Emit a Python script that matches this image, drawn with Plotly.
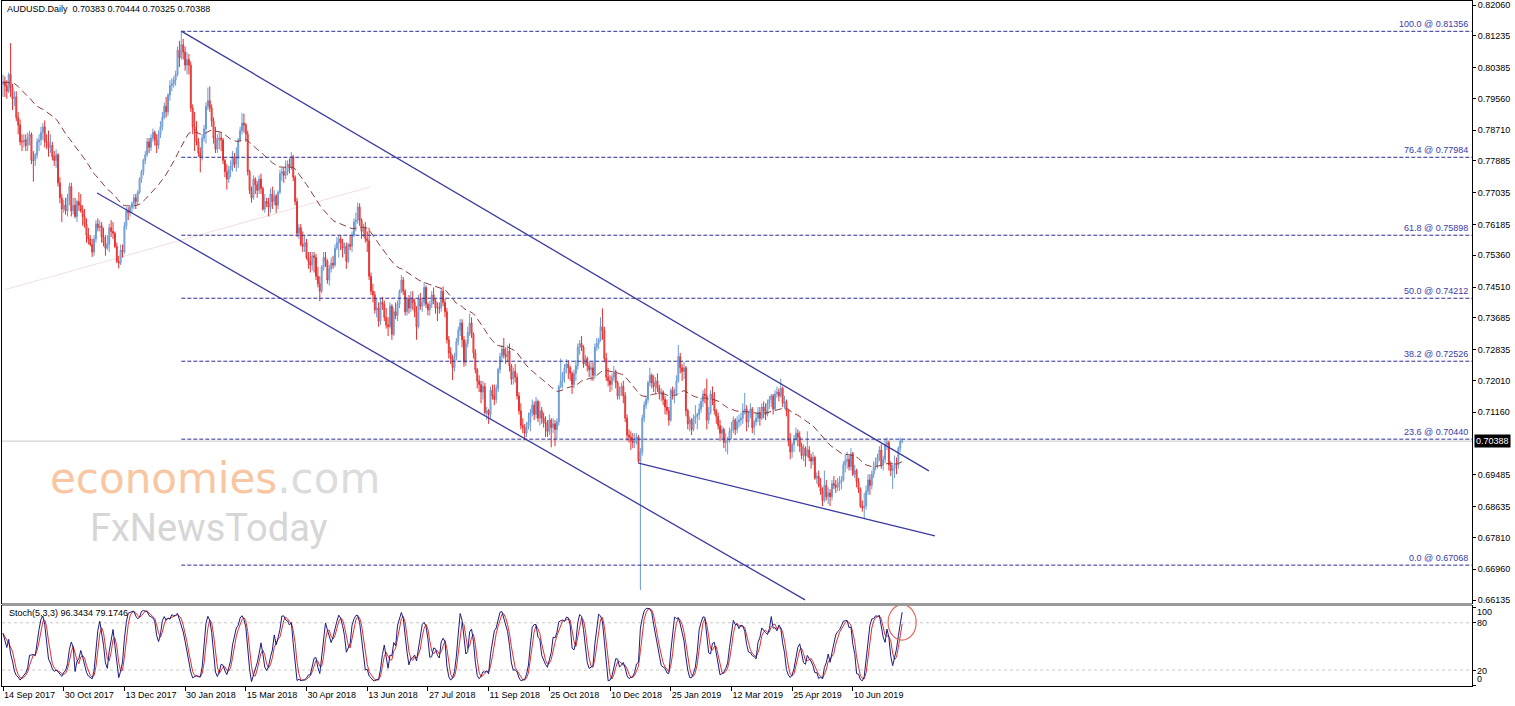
import plotly.graph_objects as go
import pandas as pd

# ---------------- data ----------------
OPEN = [
 .7995,.8000,.7990,.7975,.8020,.7985,.7955,.7960,.7905,.7885,
 .7840,.7840,.7845,.7830,.7850,.7860,.7790,.7790,.7805,.7840,
 .7845,.7865,.7880,.7840,.7840,.7825,.7830,.7800,.7790,.7805,
 .7730,.7690,.7660,.7670,.7655,.7690,.7720,.7655,.7670,.7640,
 .7680,.7670,.7655,.7640,.7620,.7590,.7580,.7565,.7545,.7580,
 .7620,.7610,.7615,.7585,.7570,.7555,.7565,.7610,.7600,.7595,
 .7560,.7520,.7515,.7550,.7545,.7615,.7655,.7650,.7665,.7675,
 .7690,.7680,.7705,.7740,.7760,.7790,.7805,.7840,.7825,.7850,
 .7865,.7845,.7830,.7860,.7880,.7905,.7935,.7920,.7965,.7990,
 .7995,.8005,.8020,.8085,.8065,.8100,.8080,.8045,.8060,.8045,
 .7930,.7880,.7870,.7840,.7810,.7800,.7850,.7875,.7935,.7950,
 .7930,.7895,.7850,.7820,.7845,.7850,.7845,.7790,.7760,.7740,
 .7765,.7775,.7800,.7780,.7795,.7845,.7870,.7890,.7885,.7860,
 .7760,.7710,.7690,.7740,.7725,.7710,.7740,.7715,.7660,.7680,
 .7675,.7665,.7700,.7680,.7695,.7670,.7705,.7755,.7760,.7750,
 .7760,.7780,.7770,.7800,.7745,.7680,.7595,.7610,.7565,.7560,
 .7570,.7530,.7520,.7510,.7535,.7530,.7480,.7460,.7440,.7505,
 .7530,.7520,.7470,.7500,.7515,.7510,.7555,.7570,.7580,.7570,
 .7555,.7560,.7520,.7565,.7560,.7590,.7625,.7630,.7665,.7630,
 .7600,.7610,.7580,.7575,.7480,.7440,.7430,.7390,.7395,.7360,
 .7410,.7405,.7370,.7350,.7345,.7400,.7325,.7385,.7375,.7405,
 .7440,.7470,.7440,.7385,.7420,.7395,.7420,.7410,.7385,.7345,
 .7420,.7400,.7410,.7450,.7405,.7390,.7405,.7430,.7415,.7395,
 .7395,.7395,.7440,.7410,.7385,.7310,.7275,.7260,.7235,.7265,
 .7305,.7335,.7355,.7310,.7250,.7300,.7330,.7355,.7325,.7275,
 .7230,.7200,.7190,.7170,.7185,.7115,.7120,.7110,.7175,.7160,
 .7150,.7180,.7230,.7265,.7285,.7270,.7265,.7280,.7240,.7205,
 .7225,.7210,.7160,.7120,.7080,.7075,.7060,.7080,.7090,.7115,
 .7135,.7110,.7145,.7100,.7120,.7100,.7090,.7085,.7065,.7095,
 .7075,.7085,.7070,.7090,.7185,.7200,.7220,.7235,.7245,.7235,
 .7220,.7190,.7220,.7240,.7290,.7300,.7290,.7245,.7260,.7240,
 .7230,.7235,.7215,.7290,.7300,.7310,.7345,.7335,.7260,.7210,
 .7200,.7190,.7210,.7225,.7195,.7160,.7175,.7185,.7160,.7100,
 .7055,.7050,.7040,.7035,.7045,.7050,.6985,.7010,.7100,.7135,
 .7150,.7195,.7215,.7195,.7185,.7200,.7180,.7165,.7170,.7150,
 .7130,.7120,.7095,.7175,.7165,.7170,.7200,.7265,.7235,.7225,
 .7235,.7120,.7085,.7095,.7070,.7100,.7105,.7110,.7125,.7145,
 .7165,.7160,.7095,.7115,.7165,.7150,.7120,.7105,.7080,.7060,
 .7070,.7035,.7040,.7045,.7065,.7070,.7095,.7070,.7090,.7095,
 .7100,.7120,.7125,.7090,.7110,.7125,.7075,.7090,.7100,.7115,
 .7100,.7130,.7120,.7110,.7140,.7150,.7160,.7125,.7165,.7170,
 .7160,.7180,.7140,.7145,.7120,.7040,.7010,.7030,.7045,.7060,
 .7050,.7025,.7000,.7020,.7000,.7015,.6995,.6985,.6995,.6940,
 .6945,.6920,.6905,.6880,.6920,.6890,.6900,.6890,.6925,.6920,
 .6915,.6925,.6930,.6935,.6975,.6985,.6990,.6970,.7005,.6950,
 .6960,.6930,.6910,.6865,.6860,.6865,.6905,.6935,.6920,.6950,
 .6970,.6980,.6995,.7015,.6975,.6990,.7030,.7035,.6975,.6960,
 .6965,.6980,.6975,.7020,.70383]

HIGH = [
 .8020,.8015,.8005,.8025,.8104,.7995,.7975,.7975,.7920,.7900,
 .7860,.7860,.7860,.7865,.7870,.7865,.7815,.7810,.7850,.7860,
 .7880,.7890,.7897,.7860,.7870,.7860,.7840,.7815,.7820,.7810,
 .7745,.7700,.7685,.7690,.7700,.7730,.7730,.7690,.7690,.7685,
 .7705,.7700,.7670,.7660,.7635,.7610,.7590,.7580,.7590,.7630,
 .7635,.7630,.7625,.7610,.7590,.7590,.7620,.7630,.7625,.7600,
 .7570,.7535,.7565,.7565,.7625,.7665,.7665,.7670,.7680,.7700,
 .7700,.7710,.7745,.7765,.7795,.7815,.7850,.7850,.7860,.7875,
 .7870,.7860,.7870,.7895,.7920,.7945,.7960,.7970,.8005,.8010,
 .8015,.8030,.8095,.8110,.8136,.8115,.8095,.8080,.8075,.8055,
 .7940,.7920,.7895,.7850,.7825,.7860,.7885,.7945,.7985,.7988,
 .7940,.7905,.7880,.7860,.7865,.7865,.7850,.7795,.7780,.7775,
 .7790,.7815,.7810,.7825,.7850,.7880,.7917,.7915,.7890,.7870,
 .7765,.7720,.7750,.7745,.7735,.7750,.7755,.7720,.7700,.7690,
 .7690,.7715,.7720,.7710,.7700,.7710,.7765,.7770,.7770,.7790,
 .7790,.7795,.7812,.7805,.7750,.7690,.7620,.7620,.7600,.7590,
 .7580,.7545,.7545,.7545,.7545,.7540,.7505,.7480,.7510,.7545,
 .7545,.7525,.7510,.7530,.7535,.7565,.7585,.7590,.7590,.7580,
 .7570,.7570,.7570,.7590,.7600,.7635,.7650,.7677,.7675,.7635,
 .7620,.7625,.7600,.7610,.7490,.7460,.7440,.7420,.7410,.7420,
 .7425,.7415,.7395,.7370,.7410,.7405,.7395,.7410,.7415,.7445,
 .7483,.7478,.7445,.7425,.7430,.7440,.7440,.7420,.7400,.7430,
 .7435,.7420,.7465,.7455,.7410,.7415,.7440,.7450,.7420,.7410,
 .7410,.7450,.7453,.7420,.7395,.7320,.7290,.7270,.7275,.7315,
 .7345,.7365,.7365,.7320,.7310,.7345,.7380,.7370,.7330,.7285,
 .7235,.7215,.7200,.7200,.7195,.7130,.7125,.7185,.7190,.7190,
 .7190,.7235,.7275,.7295,.7315,.7290,.7295,.7300,.7245,.7235,
 .7245,.7220,.7170,.7140,.7100,.7085,.7090,.7115,.7125,.7150,
 .7145,.7157,.7150,.7145,.7130,.7115,.7105,.7095,.7110,.7100,
 .7100,.7095,.7100,.7190,.7260,.7225,.7245,.7258,.7255,.7240,
 .7225,.7230,.7255,.7300,.7310,.7320,.7295,.7270,.7265,.7250,
 .7250,.7250,.7300,.7315,.7315,.7370,.7394,.7345,.7275,.7235,
 .7215,.7220,.7240,.7230,.7200,.7185,.7195,.7200,.7170,.7110,
 .7070,.7065,.7060,.7060,.7060,.7055,.7020,.7110,.7145,.7160,
 .7200,.7235,.7220,.7215,.7210,.7220,.7190,.7180,.7175,.7160,
 .7150,.7130,.7180,.7185,.7180,.7215,.7296,.7275,.7245,.7250,
 .7240,.7125,.7105,.7100,.7110,.7135,.7115,.7140,.7155,.7175,
 .7180,.7206,.7130,.7175,.7185,.7170,.7125,.7115,.7095,.7080,
 .7075,.7060,.7050,.7075,.7090,.7105,.7100,.7105,.7110,.7115,
 .7140,.7168,.7135,.7120,.7140,.7130,.7095,.7115,.7130,.7130,
 .7140,.7145,.7140,.7150,.7160,.7165,.7165,.7175,.7185,.7180,
 .7206,.7185,.7160,.7150,.7125,.7060,.7035,.7055,.7075,.7070,
 .7065,.7035,.7030,.7025,.7065,.7025,.7005,.7010,.7000,.6955,
 .6960,.6940,.6915,.6960,.6935,.6915,.6910,.6935,.6945,.6935,
 .6940,.6945,.6945,.6985,.7005,.7010,.7000,.7020,.7010,.6975,
 .6965,.6940,.6915,.6880,.6900,.6920,.6950,.6950,.6960,.6985,
 .6995,.7005,.7025,.7030,.7000,.7045,.7048,.7040,.6985,.6975,
 .7000,.6995,.7025,.7048,.70444]

LOW = [
 .7960,.7960,.7955,.7970,.7960,.7925,.7935,.7895,.7860,.7830,
 .7815,.7825,.7815,.7815,.7830,.7780,.7733,.7775,.7795,.7815,
 .7830,.7845,.7825,.7820,.7800,.7810,.7790,.7775,.7770,.7720,
 .7675,.7625,.7650,.7645,.7640,.7670,.7640,.7645,.7635,.7625,
 .7655,.7650,.7615,.7610,.7570,.7565,.7560,.7532,.7535,.7570,
 .7600,.7600,.7570,.7560,.7535,.7550,.7545,.7585,.7580,.7555,
 .7515,.7501,.7510,.7530,.7540,.7605,.7630,.7640,.7650,.7660,
 .7660,.7670,.7700,.7730,.7750,.7780,.7800,.7810,.7815,.7840,
 .7830,.7810,.7820,.7850,.7870,.7900,.7905,.7910,.7950,.7975,
 .7985,.7990,.8015,.8040,.8060,.8060,.8030,.8020,.8020,.7920,
 .7860,.7815,.7830,.7800,.7758,.7790,.7840,.7835,.7925,.7920,
 .7880,.7835,.7810,.7810,.7820,.7815,.7780,.7745,.7712,.7730,
 .7745,.7760,.7770,.7760,.7770,.7840,.7860,.7865,.7840,.7750,
 .7700,.7677,.7685,.7700,.7690,.7700,.7700,.7655,.7650,.7665,
 .7640,.7650,.7660,.7670,.7650,.7660,.7700,.7735,.7730,.7740,
 .7750,.7755,.7765,.7735,.7670,.7585,.7580,.7560,.7545,.7545,
 .7525,.7500,.7490,.7495,.7490,.7470,.7450,.7413,.7435,.7495,
 .7505,.7460,.7455,.7490,.7500,.7505,.7550,.7530,.7550,.7530,
 .7540,.7500,.7515,.7550,.7545,.7585,.7600,.7620,.7615,.7580,
 .7585,.7570,.7545,.7470,.7430,.7410,.7380,.7370,.7345,.7350,
 .7390,.7360,.7340,.7320,.7340,.7310,.7320,.7365,.7360,.7395,
 .7435,.7430,.7375,.7375,.7380,.7385,.7390,.7370,.7310,.7340,
 .7390,.7385,.7400,.7395,.7375,.7375,.7395,.7405,.7380,.7360,
 .7380,.7385,.7400,.7370,.7300,.7260,.7245,.7202,.7225,.7255,
 .7295,.7320,.7290,.7238,.7240,.7290,.7320,.7315,.7260,.7220,
 .7180,.7170,.7140,.7150,.7110,.7095,.7085,.7100,.7150,.7135,
 .7140,.7170,.7220,.7250,.7260,.7245,.7250,.7225,.7190,.7190,
 .7195,.7150,.7110,.7070,.7060,.7041,.7050,.7070,.7065,.7105,
 .7095,.7100,.7090,.7080,.7085,.7075,.7050,.7050,.7055,.7022,
 .7060,.7025,.7045,.7080,.7180,.7180,.7195,.7220,.7205,.7200,
 .7165,.7180,.7200,.7230,.7270,.7280,.7235,.7240,.7225,.7210,
 .7200,.7200,.7205,.7280,.7285,.7305,.7310,.7250,.7200,.7185,
 .7170,.7175,.7200,.7180,.7150,.7150,.7160,.7140,.7090,.7040,
 .7035,.7015,.7020,.7020,.7030,.6980,.6640,.7000,.7090,.7125,
 .7140,.7185,.7180,.7170,.7165,.7170,.7150,.7145,.7135,.7110,
 .7110,.7080,.7090,.7150,.7140,.7160,.7195,.7220,.7200,.7205,
 .7105,.7070,.7065,.7055,.7065,.7085,.7070,.7095,.7115,.7130,
 .7140,.7070,.7085,.7110,.7135,.7110,.7085,.7070,.7040,.7045,
 .7020,.7010,.7003,.7035,.7045,.7060,.7055,.7060,.7075,.7080,
 .7085,.7110,.7065,.7075,.7100,.7060,.7055,.7080,.7090,.7080,
 .7095,.7100,.7095,.7105,.7125,.7130,.7110,.7120,.7155,.7145,
 .7155,.7130,.7125,.7105,.7025,.6990,.6995,.7010,.7040,.7025,
 .7010,.6990,.6985,.6970,.6995,.6985,.6965,.6975,.6935,.6925,
 .6915,.6895,.6865,.6875,.6880,.6870,.6865,.6880,.6910,.6900,
 .6905,.6905,.6910,.6930,.6955,.6965,.6960,.6960,.6945,.6940,
 .6915,.6900,.6860,.6850,.6832,.6855,.6895,.6895,.6910,.6940,
 .6960,.6965,.6985,.6965,.6960,.6980,.7015,.6960,.6945,.6911,
 .6940,.6950,.6965,.7010,.70325]

CLOSE = [
 .8000,.7990,.7975,.8020,.7985,.7955,.7960,.7905,.7885,.7840,
 .7840,.7845,.7830,.7850,.7860,.7790,.7790,.7805,.7840,.7845,
 .7865,.7880,.7840,.7840,.7825,.7830,.7800,.7790,.7805,.7730,
 .7690,.7660,.7670,.7655,.7690,.7720,.7655,.7670,.7640,.7680,
 .7670,.7655,.7640,.7620,.7590,.7580,.7565,.7545,.7580,.7620,
 .7610,.7615,.7585,.7570,.7555,.7565,.7610,.7600,.7595,.7560,
 .7520,.7515,.7550,.7545,.7615,.7655,.7650,.7665,.7675,.7690,
 .7680,.7705,.7740,.7760,.7790,.7805,.7840,.7825,.7850,.7865,
 .7845,.7830,.7860,.7880,.7905,.7935,.7920,.7965,.7990,.7995,
 .8005,.8020,.8085,.8065,.8100,.8080,.8045,.8060,.8045,.7930,
 .7880,.7870,.7840,.7810,.7800,.7850,.7875,.7935,.7950,.7930,
 .7895,.7850,.7820,.7845,.7850,.7845,.7790,.7760,.7740,.7765,
 .7775,.7800,.7780,.7795,.7845,.7870,.7890,.7885,.7860,.7760,
 .7710,.7690,.7740,.7725,.7710,.7740,.7715,.7660,.7680,.7675,
 .7665,.7700,.7680,.7695,.7670,.7705,.7755,.7760,.7750,.7760,
 .7780,.7770,.7800,.7745,.7680,.7595,.7610,.7565,.7560,.7570,
 .7530,.7520,.7510,.7535,.7530,.7480,.7460,.7440,.7505,.7530,
 .7520,.7470,.7500,.7515,.7510,.7555,.7570,.7580,.7570,.7555,
 .7560,.7520,.7565,.7560,.7590,.7625,.7630,.7665,.7630,.7600,
 .7610,.7580,.7575,.7480,.7440,.7430,.7390,.7395,.7360,.7410,
 .7405,.7370,.7350,.7345,.7400,.7325,.7385,.7375,.7405,.7440,
 .7470,.7440,.7385,.7420,.7395,.7420,.7410,.7385,.7345,.7420,
 .7400,.7410,.7450,.7405,.7390,.7405,.7430,.7415,.7395,.7395,
 .7395,.7440,.7410,.7385,.7310,.7275,.7260,.7235,.7265,.7305,
 .7335,.7355,.7310,.7250,.7300,.7330,.7355,.7325,.7275,.7230,
 .7200,.7190,.7170,.7185,.7115,.7120,.7110,.7175,.7160,.7150,
 .7180,.7230,.7265,.7285,.7270,.7265,.7280,.7240,.7205,.7225,
 .7210,.7160,.7120,.7080,.7075,.7060,.7080,.7090,.7115,.7135,
 .7110,.7145,.7100,.7120,.7100,.7090,.7085,.7065,.7095,.7075,
 .7085,.7070,.7090,.7185,.7200,.7220,.7235,.7245,.7235,.7220,
 .7190,.7220,.7240,.7290,.7300,.7290,.7245,.7260,.7240,.7230,
 .7235,.7215,.7290,.7300,.7310,.7345,.7335,.7260,.7210,.7200,
 .7190,.7210,.7225,.7195,.7160,.7175,.7185,.7160,.7100,.7055,
 .7050,.7040,.7035,.7045,.7050,.6985,.7010,.7100,.7135,.7150,
 .7195,.7215,.7195,.7185,.7200,.7180,.7165,.7170,.7150,.7130,
 .7120,.7095,.7175,.7165,.7170,.7200,.7265,.7235,.7225,.7235,
 .7120,.7085,.7095,.7070,.7100,.7105,.7110,.7125,.7145,.7165,
 .7160,.7095,.7115,.7165,.7150,.7120,.7105,.7080,.7060,.7070,
 .7035,.7040,.7045,.7065,.7070,.7095,.7070,.7090,.7095,.7100,
 .7120,.7125,.7090,.7110,.7125,.7075,.7090,.7100,.7115,.7100,
 .7130,.7120,.7110,.7140,.7150,.7160,.7125,.7165,.7170,.7160,
 .7180,.7140,.7145,.7120,.7040,.7010,.7030,.7045,.7060,.7050,
 .7025,.7000,.7020,.7000,.7015,.6995,.6985,.6995,.6940,.6945,
 .6920,.6905,.6880,.6920,.6890,.6900,.6890,.6925,.6920,.6915,
 .6925,.6930,.6935,.6975,.6985,.6990,.6970,.7005,.6950,.6960,
 .6930,.6910,.6865,.6860,.6865,.6905,.6935,.6920,.6950,.6970,
 .6980,.6995,.7015,.6975,.6990,.7030,.7035,.6975,.6960,.6965,
 .6980,.6975,.7020,.70383,.70388]

DATE_LABEL_BARS = [0, 32, 64, 96, 128, 160, 192, 224, 256, 288, 320, 352, 384, 416, 448]
DATE_LABELS = ["14 Sep 2017", "30 Oct 2017", "13 Dec 2017", "30 Jan 2018", "15 Mar 2018",
               "30 Apr 2018", "13 Jun 2018", "27 Jul 2018", "11 Sep 2018", "25 Oct 2018",
               "10 Dec 2018", "25 Jan 2019", "12 Mar 2019", "25 Apr 2019", "10 Jun 2019"]
PRICE_TICKS = [0.82060, 0.81235, 0.80385, 0.79560, 0.78710, 0.77885, 0.77035, 0.76185,
               0.75360, 0.74510, 0.73685, 0.72835, 0.72010, 0.71160, 0.69485, 0.68635,
               0.67810, 0.66960, 0.66135]
FIB_LEVELS = [0.0, 23.6, 38.2, 50.0, 61.8, 76.4, 100.0]
FIB_PRICES = [0.67068, 0.70440, 0.72526, 0.74212, 0.75898, 0.77984, 0.81356]
FIB_START_BAR = 94
# trendlines drawn on the chart: (bar, price) anchors
CHANNEL_UPPER = [(94, 0.8136), (488.1, 0.6959)]
CHANNEL_LOWER = [(49.6, 0.7703), (422.8, 0.6614)]
WEDGE_LOWER = [(335, 0.6980), (491.3, 0.6785)]
FAINT_TREND = [(1, 0.7444), (193.5, 0.7719)]
MA_PERIOD = 50          # exponential moving average
STOCH_K, STOCH_D, STOCH_SLOW = 5, 3, 3
LAST_PRICE = 0.70388
HEADER = "AUDUSD.Daily\u00a0\u00a00.70383 0.70444 0.70325 0.70388"
STOCH_LABEL = "Stoch(5,3,3) 96.3434 79.1746"
HIGHLIGHT_BAR, HIGHLIGHT_STOCH = 474, 81

# ---------------- geometry / style ----------------
W, H = 1515, 706
ML, MR, MT, MB = 2, 43, 1, 20
PH = H - MT - MB  # plot height in px
PW = W - ML - MR
def py(pix):  # pixel row -> paper y
    return (H - MB - pix) / PH
def px(pix):  # pixel column -> paper x
    return (pix - ML) / PW
MAIN_DOM = [py(603), 1.0]
STO_DOM = [0.0, py(606)]
XR = [-0.53, 774.4]
YR = [0.66055, 0.82167]
SR = [-0.25, 101.3]

FONT = "Liberation Sans, Arial, sans-serif"
NAVY = "#2c2c94"
UP_LINE, UP_FILL = "#6a9ad2", "#adc9ea"
DN_LINE, DN_FILL = "#e5302f", "#f3a3a3"

idx = list(range(len(CLOSE)))
s_c, s_h, s_l = pd.Series(CLOSE), pd.Series(HIGH), pd.Series(LOW)
ma = s_c.ewm(span=MA_PERIOD, adjust=False).mean()
ll = s_l.rolling(STOCH_K, min_periods=1).min()
hh = s_h.rolling(STOCH_K, min_periods=1).max()
k = (s_c - ll).rolling(STOCH_SLOW, min_periods=1).sum() / (hh - ll).rolling(STOCH_SLOW, min_periods=1).sum() * 100
d = k.rolling(STOCH_D, min_periods=1).mean()

fig = go.Figure()
fig.add_trace(go.Candlestick(
    x=idx, open=OPEN, high=HIGH, low=LOW, close=CLOSE,
    increasing=dict(line=dict(color=UP_LINE, width=1), fillcolor=UP_FILL),
    decreasing=dict(line=dict(color=DN_LINE, width=1), fillcolor=DN_FILL),
    whiskerwidth=0, xaxis="x", yaxis="y", showlegend=False, hoverinfo="skip"))
fig.add_trace(go.Scatter(x=idx, y=ma, mode="lines", line=dict(color="#8b3a3a", width=1, dash="7px,4px"),
                         xaxis="x", yaxis="y", showlegend=False, hoverinfo="skip"))
fig.add_trace(go.Scatter(x=idx, y=d, mode="lines", line=dict(color="#e0302a", width=1),
                         xaxis="x2", yaxis="y2", showlegend=False, hoverinfo="skip"))
fig.add_trace(go.Scatter(x=idx, y=k, mode="lines", line=dict(color="#1c1c80", width=1),
                         xaxis="x2", yaxis="y2", showlegend=False, hoverinfo="skip"))

shapes = []
# bid line
shapes.append(dict(type="line", xref="x", yref="y", x0=XR[0], x1=XR[1], y0=LAST_PRICE, y1=LAST_PRICE,
                   line=dict(color="#c8c8c8", width=1), layer="below"))
# faint trend line
(a, b) = FAINT_TREND
shapes.append(dict(type="line", xref="x", yref="y", x0=a[0], y0=a[1], x1=b[0], y1=b[1],
                   line=dict(color="#f3dede", width=1), layer="below"))
# fib levels
for lvl, p in zip(FIB_LEVELS, FIB_PRICES):
    shapes.append(dict(type="line", xref="x", yref="y", x0=FIB_START_BAR, x1=XR[1], y0=p, y1=p,
                       line=dict(color=NAVY, width=1, dash="4px,2px")))
# channel and wedge lines
for (a, b) in (CHANNEL_UPPER, CHANNEL_LOWER, WEDGE_LOWER):
    shapes.append(dict(type="line", xref="x", yref="y", x0=a[0], y0=a[1], x1=b[0], y1=b[1],
                       line=dict(color="#3a3aa0", width=1.3)))
# stochastic levels
for lv in (80, 20):
    shapes.append(dict(type="line", xref="x2", yref="y2", x0=XR[0], x1=XR[1], y0=lv, y1=lv,
                       line=dict(color="#c8c8c8", width=1, dash="3px,3px"), layer="below"))
# panel separator band
shapes.append(dict(type="rect", xref="paper", yref="paper", x0=0, x1=1, y0=py(606), y1=py(603),
                   line=dict(width=0), fillcolor="#9a9a9a"))
# highlight circle
shapes.append(dict(type="circle", xref="x2", yref="y2",
                   x0=HIGHLIGHT_BAR - 7.4, x1=HIGHLIGHT_BAR + 7.4,
                   y0=HIGHLIGHT_STOCH - 23, y1=HIGHLIGHT_STOCH + 22,
                   line=dict(color="#e06a5a", width=1.2)))

ann = []
ann.append(dict(text=HEADER, xref="paper", yref="paper", x=px(5), y=py(9),
                xanchor="left", yanchor="middle", showarrow=False, font=dict(family=FONT, size=9, color="#000")))
ann.append(dict(text=STOCH_LABEL, xref="paper", yref="paper", x=px(7), y=py(613),
                xanchor="left", yanchor="middle", showarrow=False, font=dict(family=FONT, size=9, color="#000")))
for lvl, p in zip(FIB_LEVELS, FIB_PRICES):
    ann.append(dict(text=f"{lvl:.1f} @ {p:.5f}", xref="paper", yref="y", x=1, y=p, xshift=-2,
                    xanchor="right", yanchor="bottom", showarrow=False,
                    font=dict(family=FONT, size=9, color="#3a3aa8")))
ann.append(dict(text=f"{LAST_PRICE:.5f}", xref="paper", yref="y", x=1, y=LAST_PRICE, xshift=2,
                xanchor="left", yanchor="middle", showarrow=False, bgcolor="#000000", borderpad=1,
                font=dict(family=FONT, size=9, color="#ffffff")))
for txt, pix in (("100", 612), ("80", 623), ("20", 671), ("0", 679)):
    ann.append(dict(text=txt, xref="paper", yref="paper", x=1, y=py(pix), xshift=3,
                    xanchor="left", yanchor="middle", showarrow=False,
                    font=dict(family=FONT, size=9, color="#000")))
# watermark
ann.append(dict(text='<span style="color:#f8c6a0">economies</span><span style="color:#dcdcdc">.com</span>',
                xref="paper", yref="paper", x=px(48), y=py(478),
                xanchor="left", yanchor="middle", showarrow=False,
                font=dict(family="DejaVu Sans", size=42)))
ann.append(dict(text="FxNewsToday", xref="paper", yref="paper", x=px(88), y=py(528),
                xanchor="left", yanchor="middle", showarrow=False,
                font=dict(family="Roboto", size=38, color="#d6d6d6")))

axis_common = dict(showline=True, linecolor="#000", linewidth=1, mirror=True, showgrid=False, zeroline=False)
fig.update_layout(
    width=W, height=H, margin=dict(l=ML, r=MR, t=MT, b=MB),
    paper_bgcolor="#ffffff", plot_bgcolor="#ffffff",
    font=dict(family=FONT, size=9, color="#000"),
    shapes=shapes, annotations=ann, showlegend=False, hovermode=False,
    xaxis=dict(domain=[0, 1], anchor="y", range=XR, showticklabels=False, ticks="",
               rangeslider=dict(visible=False), **axis_common),
    yaxis=dict(domain=MAIN_DOM, anchor="x", range=YR, side="right", tickvals=PRICE_TICKS,
               tickformat=".5f", ticks="outside", ticklen=3, tickcolor="#000",
               tickfont=dict(family=FONT, size=9, color="#000"), **axis_common),
    xaxis2=dict(domain=[0, 1], anchor="y2", matches="x", range=XR, tickvals=DATE_LABEL_BARS,
                ticktext=DATE_LABELS, ticks="outside", ticklen=4, tickcolor="#000",
                ticklabelposition="outside right", tickfont=dict(family=FONT, size=9, color="#000"),
                rangeslider=dict(visible=False), **axis_common),
    yaxis2=dict(domain=STO_DOM, anchor="x2", range=SR, side="right", tickvals=[0, 20, 80, 100],
                showticklabels=False, ticks="outside", ticklen=3, tickcolor="#000", **axis_common),
)

fig.write_html("out.html", config={"displayModeBar": False, "staticPlot": True},
               post_script="document.body.style.margin='0';")
